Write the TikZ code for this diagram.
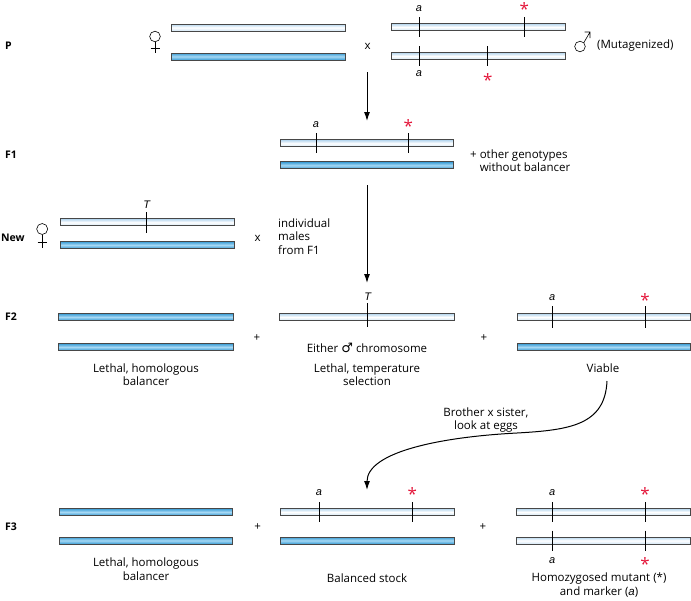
\documentclass[tikz,border=0pt]{standalone}
\usepackage{fontspec}
\setmainfont{Open Sans}
\newfontfamily\symfont{DejaVu Sans}
\newfontfamily\genefont{Liberation Sans}
\usetikzlibrary{arrows.meta}
\definecolor{barline}{HTML}{474747}
\definecolor{lightedge}{HTML}{B3D5EE}
\definecolor{blueedge}{HTML}{379BD4}
\definecolor{bluemid}{HTML}{A6D8F4}
\definecolor{starred}{HTML}{E4163A}
\begin{document}
\begin{tikzpicture}[x=1pt,y=-1pt,
  lbar/.style={rectangle,draw=barline,line width=0.9pt,top color=lightedge,bottom color=lightedge!60,middle color=white,minimum height=7pt,inner sep=0pt},
  bbar/.style={rectangle,draw=barline,line width=0.9pt,top color=blueedge,bottom color=blueedge,middle color=bluemid,minimum height=7pt,inner sep=0pt},
  tick/.style={line width=1pt,black},
  gene/.style={font=\genefont\fontsize{11}{12}\selectfont\itshape,inner sep=0pt},
  star/.style={text=starred,font=\fontsize{17}{17}\selectfont,inner sep=0pt},
  txt/.style={font=\fontsize{11.5}{13.5}\selectfont,inner sep=0pt,align=center},
  genlab/.style={font=\fontsize{10.5}{12}\selectfont\bfseries,inner sep=0pt,anchor=west},
  sym/.style={line width=0.6pt,black},
  arr/.style={line width=1pt,-{Latex[length=9pt,width=6pt]}}
]
\useasboundingbox (0,0) rectangle (691,600);

% ---------- P ----------
\node[genlab] (lP) at (5,46) {P};
\node[lbar,minimum width=174pt] (pf1) at (258,27.5) {};
\node[bbar,minimum width=174pt] (pf2) at (258,56.5) {};
% female symbol
\draw[sym] (155,36.5) circle (5.3);
\draw[sym] (155,41.8) -- (155,53) (150.5,48) -- (159.5,48);
\node[txt] (px) at (367.7,46.5) {x};
\node[lbar,minimum width=174pt] (pm1) at (478.7,27) {};
\node[lbar,minimum width=174pt] (pm2) at (478.7,56) {};
\draw[tick] (419,17) -- (419,37);
\draw[tick] (524.3,17) -- (524.3,37);
\draw[tick] (419,46) -- (419,66);
\draw[tick] (487.7,46) -- (487.7,66);
\node[gene] (pa1) at (419,9) {a};
\node[star] (ps1) at (524.3,9) {*};
\node[gene] (pa2) at (419,74) {a};
\node[star] (ps2) at (487.7,80) {*};
% male symbol
\draw[sym] (580,46.5) circle (5.3);
\draw[sym] (583.8,42.7) -- (590,32) (584.5,32) -- (590,32) -- (590,38);
\node[txt,anchor=west] (mut) at (597,46) {(Mutagenized)};

\coordinate (a1s) at (367,72);
\coordinate (a1e) at (367,121);
\draw[arr] (a1s) -- (a1e);

% ---------- F1 ----------
\node[genlab] (lF1) at (5,155) {F1};
\node[lbar,minimum width=173pt] (f1a) at (366.5,143.3) {};
\node[bbar,minimum width=173pt] (f1b) at (366.5,165.3) {};
\draw[tick] (316,133) -- (316,153);
\draw[tick] (408.3,133) -- (408.3,153);
\node[gene] (f1ga) at (316,125) {a};
\node[star] (f1s) at (408.3,126) {*};
\node[txt,anchor=west,align=left] (other) at (470,160.5) {+ other genotypes\\\phantom{+}\ without balancer};

\coordinate (a2s) at (367,185);
\coordinate (a2e) at (367,283);
\draw[arr] (a2s) -- (a2e);

% ---------- New ----------
\node[genlab] (lNew) at (1,238) {New};
\draw[sym] (42.2,229) circle (5.5);
\draw[sym] (42.2,234.5) -- (42.2,248) (37.7,242.7) -- (46.7,242.7);
\node[lbar,minimum width=174pt] (nw1) at (147.8,222.3) {};
\node[bbar,minimum width=174pt] (nw2) at (147.8,245) {};
\draw[tick] (146.7,212) -- (146.7,232.5);
\node[gene] (nT) at (146.7,205) {T};
\node[txt] (nx) at (257.7,238) {x};
\node[txt,anchor=west,align=left] (indiv) at (278,236.5) {individual\\males\\from F1};

% ---------- F2 ----------
\node[genlab] (lF2) at (5,317) {F2};
\node[bbar,minimum width=175pt] (f2l1) at (145.5,317) {};
\node[bbar,minimum width=175pt] (f2l2) at (145.5,347) {};
\node[txt] (f2lt) at (146,374.5) {Lethal, homologous\\balancer};
\node[txt] (f2p1) at (257,338) {+};
\node[lbar,minimum width=175pt] (f2m) at (366.5,317) {};
\draw[tick] (367.7,303) -- (367.7,327);
\node[gene] (f2T) at (367.7,297) {T};
\node[txt] (f2either) at (367,348) {Either {\symfont\fontsize{13}{13}\selectfont ♂} chromosome};
\node[txt] (f2mt) at (367,374.5) {Lethal, temperature\\selection};
\node[txt] (f2p2) at (484,338) {+};
\node[lbar,minimum width=173pt] (f2r1) at (603.5,317) {};
\node[bbar,minimum width=173pt] (f2r2) at (603.5,347) {};
\draw[tick] (552.3,306) -- (552.3,328);
\draw[tick] (645,306) -- (645,328);
\node[gene] (f2a) at (552.3,298) {a};
\node[star] (f2s) at (645,300) {*};
\node[txt] (viable) at (603,368) {Viable};

% curved arrow
\coordinate (cs) at (607,381);
\coordinate (ce) at (367,490);
\draw[line width=1pt,-{Latex[length=9pt,width=6pt]}] (cs) .. controls (605,425) and (570,430) .. (517,433) .. controls (440,437) and (367,452) .. (ce);
\node[txt] (bro) at (486,420) {Brother x sister,\\look at eggs};

% ---------- F3 ----------
\node[genlab] (lF3) at (5,527) {F3};
\node[bbar,minimum width=173pt] (f3l1) at (145.5,512) {};
\node[bbar,minimum width=173pt] (f3l2) at (145.5,540.5) {};
\node[txt] (f3lt) at (146,569) {Lethal, homologous\\balancer};
\node[txt] (f3p1) at (257.7,527) {+};
\node[lbar,minimum width=174pt] (f3m1) at (367,512) {};
\node[bbar,minimum width=174pt] (f3m2) at (367,540.5) {};
\draw[tick] (319,502) -- (319,522);
\draw[tick] (412.3,502) -- (412.3,522);
\node[gene] (f3ma) at (319,493) {a};
\node[star] (f3ms) at (412.3,494) {*};
\node[txt] (bal) at (367,578) {Balanced stock};
\node[txt] (f3p2) at (483,527) {+};
\node[lbar,minimum width=174pt] (f3r1) at (603.7,512) {};
\node[lbar,minimum width=174pt] (f3r2) at (603.7,540.5) {};
\draw[tick] (552.3,502) -- (552.3,522);
\draw[tick] (645,502) -- (645,522);
\draw[tick] (552.3,530.5) -- (552.3,550.5);
\draw[tick] (645,530.5) -- (645,550.5);
\node[gene] (f3ra1) at (552.3,493) {a};
\node[star] (f3rs1) at (645,494) {*};
\node[gene] (f3ra2) at (552.3,561) {a};
\node[star] (f3rs2) at (645,564) {*};
\node[txt] (homo) at (599,585) {Homozygosed mutant (*)\\and marker ({\genefont\itshape a})};
\end{tikzpicture}
\end{document}
